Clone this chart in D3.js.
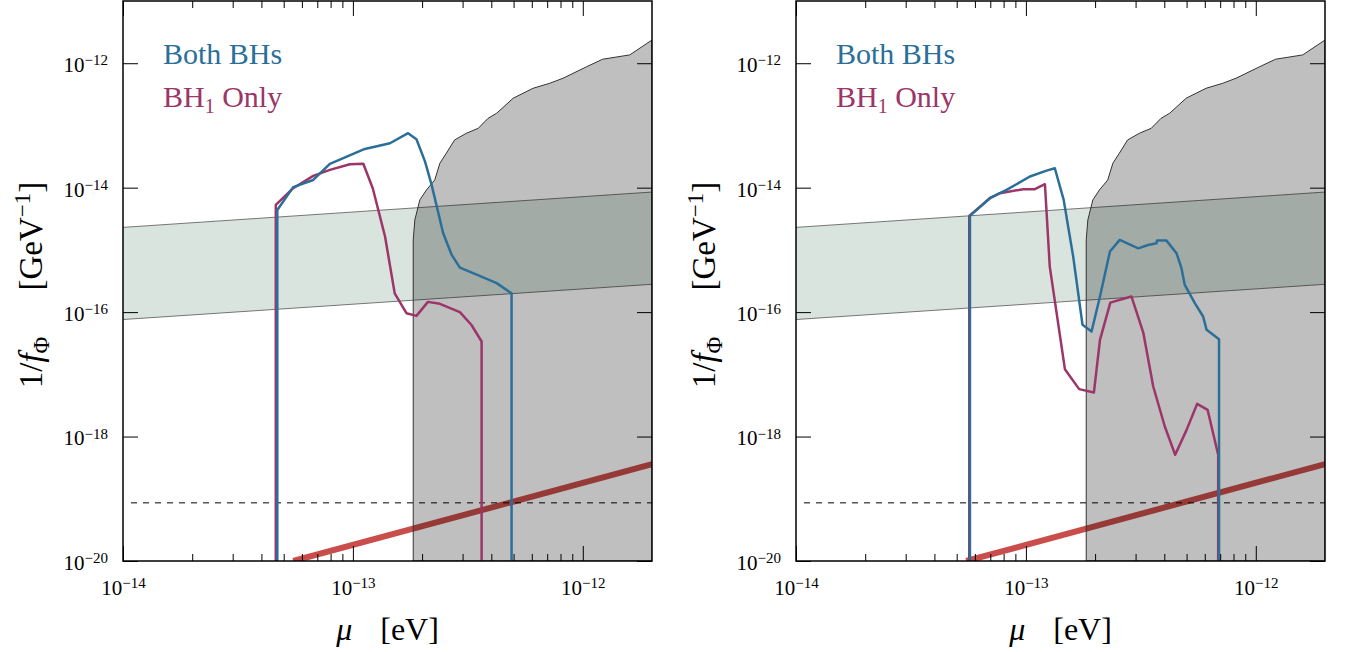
<!DOCTYPE html>
<html>
<head>
<meta charset="utf-8">
<script src="https://cdn.jsdelivr.net/npm/d3@7"></script>
<style>
  body { margin: 0; background: #fff; }
  svg { display: block; }
  svg text { font-family: "Liberation Serif", "DejaVu Serif", serif; }
</style>
</head>
<body>
<div id="chart"></div>
<script>
// tick values
const xMajorTicks = [1e-14, 1e-13, 1e-12];
const yMajorTicks = [1e-20, 1e-18, 1e-16, 1e-14, 1e-12];

// left panel, "Both BHs"
const leftBothMu = [4.69e-14, 4.69e-14, 5.5e-14, 6.72e-14, 7.94e-14, 1.127e-13, 1.45e-13, 1.738e-13, 1.89e-13, 2.06e-13, 2.2e-13, 2.47e-13, 2.69e-13, 2.92e-13, 3.56e-13, 4.22e-13, 4.9e-13, 4.9e-13];
const leftBothF  = [1e-20, 4.39e-15, 1.02e-14, 1.33e-14, 2.41e-14, 4.19e-14, 5.18e-14, 7.5e-14, 6.0e-14, 2.62e-14, 1.11e-14, 1.85e-15, 8.3e-16, 5.2e-16, 3.82e-16, 2.92e-16, 2.0e-16, 1e-20];

// left panel, "BH1 Only"
const leftBh1Mu = [4.62e-14, 4.62e-14, 5.5e-14, 6.72e-14, 7.94e-14, 9.7e-14, 1.11e-13, 1.22e-13, 1.38e-13, 1.52e-13, 1.71e-13, 1.89e-13, 2.12e-13, 2.39e-13, 2.92e-13, 3.28e-13, 3.63e-13, 3.63e-13];
const leftBh1F  = [1e-20, 5.28e-15, 9.8e-15, 1.55e-14, 1.93e-14, 2.38e-14, 2.42e-14, 9.8e-15, 1.64e-15, 2.0e-16, 9.6e-17, 8.7e-17, 1.46e-16, 1.36e-16, 1.0e-16, 6.2e-17, 3.37e-17, 1e-20];

// right panel, "Both BHs"
const rightBothMu = [5.71e-14, 5.71e-14, 6.97e-14, 8.24e-14, 1.041e-13, 1.23e-13, 1.336e-13, 1.46e-13, 1.606e-13, 1.763e-13, 1.93e-13, 2.10e-13, 2.32e-13, 2.56e-13, 3.08e-13, 3.40e-13, 3.70e-13, 3.72e-13, 4.09e-13, 4.52e-13, 4.75e-13, 4.91e-13, 5.43e-13, 5.90e-13, 6.11e-13, 6.92e-13, 6.92e-13];
const rightBothF  = [1e-20, 3.52e-15, 6.77e-15, 9.2e-15, 1.51e-14, 1.88e-14, 2.05e-14, 6.36e-15, 7.8e-16, 6.24e-17, 4.87e-17, 1.78e-16, 9.4e-16, 1.45e-15, 1.06e-15, 1.2e-15, 1.28e-15, 1.41e-15, 1.41e-15, 8.85e-16, 5.08e-16, 2.74e-16, 1.39e-16, 8.5e-17, 5.19e-17, 3.67e-17, 1e-20];

// right panel, "BH1 Only"
const rightBh1Mu = [5.67e-14, 5.67e-14, 6.97e-14, 7.71e-14, 9.73e-14, 1.094e-13, 1.21e-13, 1.27e-13, 1.478e-13, 1.705e-13, 1.976e-13, 2.10e-13, 2.33e-13, 2.61e-13, 2.88e-13, 3.24e-13, 3.58e-13, 4.02e-13, 4.46e-13, 5.0e-13, 5.56e-13, 6.17e-13, 6.86e-13, 6.86e-13];
const rightBh1F  = [1e-20, 3.52e-15, 6.77e-15, 8.15e-15, 9.44e-15, 9.44e-15, 1.135e-14, 5.39e-16, 1.21e-17, 5.78e-18, 5.1e-18, 3.58e-17, 1.42e-16, 1.61e-16, 1.78e-16, 4.69e-17, 6.37e-18, 1.45e-18, 5.1e-19, 1.28e-18, 3.36e-18, 2.69e-18, 5.1e-19, 1e-20];

// excluded (grey) region boundary
const exclMu = [1.83e-13, 1.83e-13, 1.86e-13, 1.955e-13, 2.09e-13, 2.27e-13, 2.39e-13, 2.55e-13, 2.77e-13, 3.12e-13, 3.51e-13, 3.87e-13, 4.22e-13, 4.98e-13, 6.08e-13, 7.18e-13, 8.2e-13, 1.04e-12, 1.22e-12, 1.60e-12, 2.0e-12, 2.0e-12];
const exclF  = [1e-20, 1.45e-15, 3.03e-15, 6.36e-15, 9.2e-15, 1.33e-14, 2.47e-14, 3.58e-14, 5.85e-14, 7.5e-14, 9.0e-14, 1.30e-13, 1.57e-13, 2.74e-13, 3.96e-13, 4.76e-13, 5.73e-13, 8.8e-13, 1.16e-12, 1.36e-12, 2.36e-12, 1e-20];

// green band
const bandMu = [1e-14, 2e-12];
const bandTop = [2.3e-15, 8.5e-15];
const bandBottom = [7.6e-17, 2.8e-16];

// red line and dashed level
const redMu = [5.5e-14, 2e-12];
const redF = [1e-20, 3.6e-19];
const dashF = 8.6e-20;

const panels = [
    { x0: 123, both: [leftBothMu, leftBothF], bh1: [leftBh1Mu, leftBh1F] },
    { x0: 796, both: [rightBothMu, rightBothF], bh1: [rightBh1Mu, rightBh1F] }
];

const W = 529, H = 560;
const blue = "#2b6f99", magenta = "#9c3568";
const serif = "Liberation Serif, DejaVu Serif, serif";

const svg = d3.select("#chart").append("svg")
    .attr("width", 1350).attr("height", 652);

const zip = (a, b) => a.map((v, i) => [v, b[i]]);

panels.forEach((p, idx) => {
    const x = d3.scaleLog().domain([1e-14, 2e-12]).range([0, W]);
    const y = d3.scaleLog().domain([1e-20, 1e-11]).range([H, 0]);
    const line = d3.line().x(d => x(d[0])).y(d => y(d[1]));

    const g = svg.append("g").attr("transform", `translate(${p.x0},1)`);
    const clipId = `clip-${idx}`;
    g.append("clipPath").attr("id", clipId)
        .append("rect").attr("width", W).attr("height", H);
    const plot = g.append("g").attr("clip-path", `url(#${clipId})`);

    // band
    const bandPoly = zip(bandMu, bandTop).concat(zip(bandMu, bandBottom).reverse());
    plot.append("path").attr("d", line(bandPoly) + "Z")
        .attr("fill", "#dae4de").attr("stroke", "none");
    plot.append("path").attr("d", line(zip(bandMu, bandTop)))
        .attr("fill", "none").attr("stroke", "#555").attr("stroke-width", 0.8);
    plot.append("path").attr("d", line(zip(bandMu, bandBottom)))
        .attr("fill", "none").attr("stroke", "#555").attr("stroke-width", 0.8);

    // red line
    plot.append("path").attr("d", line(zip(redMu, redF)))
        .attr("fill", "none").attr("stroke", "#c94e4b").attr("stroke-width", 6);

    // excluded region
    plot.append("path").attr("d", line(zip(exclMu, exclF)) + "Z")
        .attr("fill", "rgba(0,0,0,0.25)").attr("stroke", "#333").attr("stroke-width", 1);

    // dashed level
    plot.append("line")
        .attr("x1", 8).attr("x2", W)
        .attr("y1", y(dashF)).attr("y2", y(dashF))
        .attr("stroke", "#000").attr("stroke-width", 1).attr("stroke-dasharray", "6,6");

    // curves
    plot.append("path").attr("d", line(zip(p.bh1[0], p.bh1[1])))
        .attr("fill", "none").attr("stroke", magenta).attr("stroke-width", 2.5)
        .attr("stroke-linejoin", "round");
    plot.append("path").attr("d", line(zip(p.both[0], p.both[1])))
        .attr("fill", "none").attr("stroke", blue).attr("stroke-width", 2.5)
        .attr("stroke-linejoin", "round");

    // axes
    const minor = [];
    [1e-14, 1e-13, 1e-12].forEach(d => { for (let k = 2; k <= 9; k++) if (d * k < 2e-12) minor.push(d * k); });

    const supLabel = function(sel) {
        sel.selectAll(".tick text").each(function(d) {
            const t = d3.select(this);
            t.text("");
            t.append("tspan").text("10");
            t.append("tspan").attr("dy", "-0.45em").attr("font-size", "15px")
                .text("\u2212" + Math.round(-Math.log10(d)));
        });
    };

    const bottom = g.append("g").attr("transform", `translate(0,${H})`)
        .call(d3.axisBottom(x).tickValues(xMajorTicks).tickSize(-15).tickPadding(19).tickFormat(() => ""));
    bottom.call(supLabel);
    g.append("g").attr("transform", `translate(0,${H})`)
        .call(d3.axisBottom(x).tickValues(minor).tickSize(-7).tickFormat(""));
    g.append("g")
        .call(d3.axisTop(x).tickValues(xMajorTicks).tickSize(-15).tickFormat(""));
    g.append("g")
        .call(d3.axisTop(x).tickValues(minor).tickSize(-7).tickFormat(""));

    const left = g.append("g")
        .call(d3.axisLeft(y).tickValues(yMajorTicks).tickSize(-15).tickPadding(15).tickFormat(() => ""));
    left.call(supLabel);
    left.selectAll(".tick text").attr("dy", "0.4em");
    g.append("g").attr("transform", `translate(${W},0)`)
        .call(d3.axisRight(y).tickValues(yMajorTicks).tickSize(-15).tickFormat(""));

    g.selectAll(".domain").remove();
    g.selectAll(".tick line").attr("stroke", "#000").attr("stroke-width", 1);
    g.selectAll(".tick text").attr("font-size", "21px").attr("fill", "#000")
        .attr("font-family", serif);

    // frame
    g.append("rect").attr("width", W).attr("height", H)
        .attr("fill", "none").attr("stroke", "#000").attr("stroke-width", 1.5);

    // legend
    g.append("text").attr("x", 40).attr("y", 63).attr("font-family", serif)
        .attr("font-size", "30px").attr("fill", blue).text("Both BHs");
    const l2 = g.append("text").attr("x", 40).attr("y", 106).attr("font-family", serif)
        .attr("font-size", "30px").attr("fill", magenta);
    l2.append("tspan").text("BH");
    l2.append("tspan").attr("dy", 6).attr("font-size", "20px").text("1");
    l2.append("tspan").attr("dy", -6).text(" Only");

    // x label
    const xl = g.append("text").attr("x", W / 2).attr("y", 639).attr("font-family", serif)
        .attr("text-anchor", "middle").attr("font-size", "32px").attr("fill", "#000");
    xl.append("tspan").attr("font-style", "italic").text("\u03bc");
    xl.append("tspan").attr("dx", 28).text("[eV]");

    // y label
    const yl = g.append("text").attr("font-family", serif)
        .attr("transform", `translate(-81,284) rotate(-90)`)
        .attr("text-anchor", "middle").attr("font-size", "33px").attr("fill", "#000");
    yl.append("tspan").text("1/");
    yl.append("tspan").attr("font-style", "italic").text("f");
    yl.append("tspan").attr("dy", 7).attr("font-size", "23px").text("\u03a6");
    yl.append("tspan").attr("dy", -7).attr("dx", 46).text("[GeV");
    yl.append("tspan").attr("dy", -12).attr("font-size", "23px").text("\u22121");
    yl.append("tspan").attr("dy", 12).text("]");
});
</script>
</body>
</html>
